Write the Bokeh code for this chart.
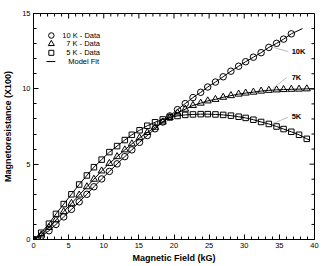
import math
from bokeh.plotting import figure
from bokeh.models import ColumnDataSource, SingleIntervalTicker, Range1d
from bokeh.core.properties import value
from bokeh.embed import file_html
from bokeh.resources import INLINE

# Field values (kG) of the data points
field = [0, 1.1, 2.2, 3.2, 4.3, 5.4, 6.5, 7.6, 8.6, 9.7, 10.8, 11.9, 13.0, 14.0, 15.1,
         16.2, 17.3, 18.4, 19.4, 20.5, 21.6, 22.7, 23.8, 24.8, 25.9, 27.0, 28.1, 29.2,
         30.2, 31.3, 32.4, 33.5, 34.6, 35.6, 36.7, 37.8, 38.9]

mr_10k = [0, 0.22, 0.58, 1.0, 1.5, 2.0, 2.5, 3.0, 3.5, 4.02, 4.52, 5.02, 5.5, 5.95, 6.45,
          6.9, 7.35, 7.8, 8.2, 8.62, 9.02, 9.42, 9.77, 10.12, 10.45, 10.8, 11.17, 11.5,
          11.8, 12.1, 12.4, 12.75, 13.02, 13.3, 13.65]
mr_7k = [0, 0.3, 0.8, 1.3, 1.85, 2.4, 2.95, 3.5, 4.0, 4.55, 5.05, 5.5, 5.95, 6.35, 6.75,
         7.1, 7.45, 7.8, 8.1, 8.4, 8.65, 8.9, 9.05, 9.2, 9.3, 9.44, 9.55, 9.65, 9.72,
         9.78, 9.85, 9.9, 9.93, 9.95, 9.97, 9.98, 10.0]
mr_5k = [0, 0.45, 1.05, 1.7, 2.35, 3.0, 3.65, 4.25, 4.8, 5.3, 5.8, 6.2, 6.6, 6.95, 7.25,
         7.55, 7.78, 7.97, 8.1, 8.2, 8.27, 8.3, 8.32, 8.32, 8.3, 8.27, 8.22, 8.15, 8.07,
         7.95, 7.8, 7.67, 7.5, 7.33, 7.15, 6.95, 6.68]

# Model-fit curves (data path plus the fit's end point)
fit_10k_x = field[:len(mr_10k)] + [38.3]
fit_10k_y = mr_10k + [14.0]
fit_7k_x = field + [40.0]
fit_7k_y = mr_7k + [10.0]
fit_5k_x = field + [39.3]
fit_5k_y = mr_5k + [6.6]

x_major = [0, 5, 10, 15, 20, 25, 30, 35, 40]
x_minor = [v for v in range(0, 41) if v % 5]
y_major = [0, 5, 10, 15]
y_minor = [v for v in range(0, 16) if v % 5]

legend_labels = ["10 K - Data", "7 K - Data", "5 K - Data", "Model Fit"]
curve_labels = ["10K", "7K", "5K"]

FONT = "Liberation Sans"

p = figure(width=325, height=266, output_backend="svg", toolbar_location=None,
           x_range=Range1d(0, 40), y_range=Range1d(0, 15),
           min_border_left=31, min_border_right=11, min_border_top=13, min_border_bottom=27,
           x_axis_label="Magnetic Field (kG)", y_axis_label="Magnetoresistance (X100)")
p.grid.visible = False
p.outline_line_color = "black"
p.outline_line_width = 1
p.background_fill_color = "white"
p.border_fill_color = "white"

p.xaxis.ticker = SingleIntervalTicker(interval=5, num_minor_ticks=5)
p.yaxis.ticker = SingleIntervalTicker(interval=5, num_minor_ticks=5)
for ax in (p.xaxis[0], p.yaxis[0]):
    ax.major_tick_in = 5
    ax.major_tick_out = 0
    ax.minor_tick_in = 3
    ax.minor_tick_out = 0
    ax.axis_line_color = "black"
    ax.major_label_text_font = FONT
    ax.major_label_text_font_size = "7.5px"
    ax.major_label_text_color = "black"
    ax.major_label_standoff = 3
    ax.axis_label_text_font = FONT
    ax.axis_label_text_font_size = "9px"
    ax.axis_label_text_font_style = "bold"
    ax.axis_label_text_color = "black"
p.xaxis.axis_label_standoff = 2
p.yaxis.axis_label_standoff = 6

# inward ticks on the top and right frame edges
p.ray(x=x_major, y=[15] * len(x_major), length=5, length_units="screen",
      angle=-math.pi / 2, line_color="black", line_width=1)
p.ray(x=x_minor, y=[15] * len(x_minor), length=3, length_units="screen",
      angle=-math.pi / 2, line_color="black", line_width=1)
p.ray(x=[40] * len(y_major), y=y_major, length=5, length_units="screen",
      angle=math.pi, line_color="black", line_width=1)
p.ray(x=[40] * len(y_minor), y=y_minor, length=3, length_units="screen",
      angle=math.pi, line_color="black", line_width=1)

# fit lines
for xs, ys in [(fit_10k_x, fit_10k_y), (fit_7k_x, fit_7k_y), (fit_5k_x, fit_5k_y)]:
    p.line(xs, ys, line_color="black", line_width=1)

# data markers
s10 = ColumnDataSource(dict(x=field[:len(mr_10k)], y=mr_10k))
s7 = ColumnDataSource(dict(x=field, y=mr_7k))
s5 = ColumnDataSource(dict(x=field, y=mr_5k))
p.scatter("x", "y", source=s10, marker="circle", size=6.5, fill_color=None,
          line_color="black", line_width=1)
p.scatter("x", "y", source=s7, marker="triangle", size=7, fill_color=None,
          line_color="black", line_width=1)
p.scatter("x", "y", source=s5, marker="square", size=5.5, fill_color=None,
          line_color="black", line_width=1)

# curve labels with leader lines
p.segment(x0=[34.2, 34.06, 34.06], y0=[12.74, 10.02, 7.70],
          x1=[36.3, 36.04, 36.2], y1=[12.47, 10.75, 8.10],
          line_color="#aaaaaa", line_width=0.8)
p.text(x=[36.75, 36.75, 36.75], y=[12.47, 10.75, 8.16], text=curve_labels,
       text_font=value(FONT), text_font_size="7.5px", text_font_style="bold",
       text_align="left", text_baseline="middle", text_color="black")

# legend
ly = [13.54, 12.99, 12.39, 11.81]
p.scatter([2.54], [ly[0]], marker="circle", size=5.5, fill_color=None, line_color="black")
p.scatter([2.54], [ly[1]], marker="triangle", size=6, fill_color=None, line_color="black")
p.scatter([2.54], [ly[2]], marker="square", size=5, fill_color=None, line_color="black")
p.line([1.84, 3.11], [ly[3], ly[3]], line_color="black", line_width=1)
p.text(x=[4.10, 4.66, 4.66, 4.95], y=ly, text=legend_labels,
       text_font=value(FONT), text_font_size="7.5px",
       text_align="left", text_baseline="middle", text_color="black")

open("out.html", "w").write(file_html(p, INLINE))
